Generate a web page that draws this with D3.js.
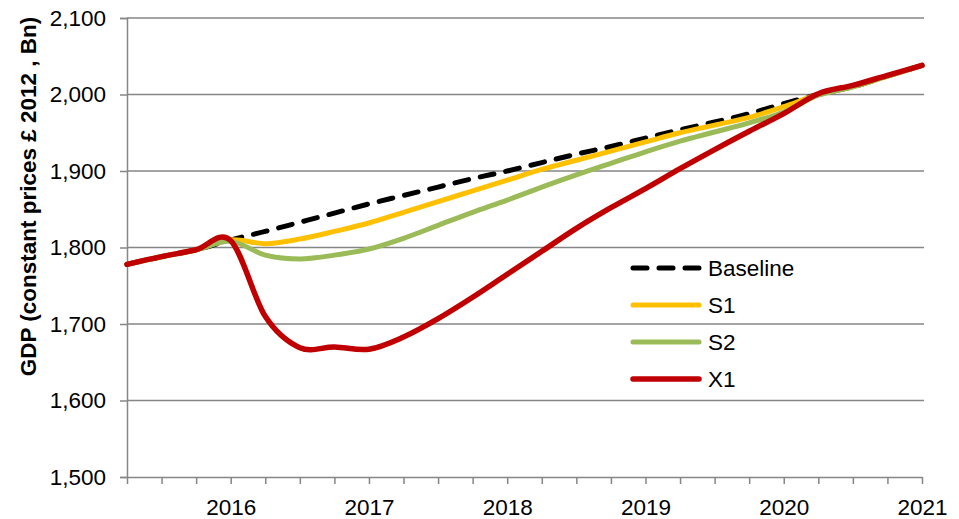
<!DOCTYPE html>
<html>
<head>
<meta charset="utf-8">
<script src="https://cdn.jsdelivr.net/npm/d3@7"></script>
<style>
  html, body { margin: 0; padding: 0; background: #fff; }
  svg { display: block; font-family: "Liberation Sans", Arial, sans-serif; }
</style>
</head>
<body>
<svg id="chart" width="959" height="519"></svg>
<script>
// ---- data (quarterly) ----
const quarters = [2015.25, 2015.5, 2015.75, 2016, 2016.25, 2016.5, 2016.75, 2017,
                  2017.25, 2017.5, 2017.75, 2018, 2018.25, 2018.5, 2018.75, 2019,
                  2019.25, 2019.5, 2019.75, 2020, 2020.25, 2020.5, 2020.75, 2021];
const baseline = [1778, 1788, 1797, 1810, 1821, 1833, 1845, 1857,
                  1868, 1879, 1890, 1900, 1911, 1922, 1932, 1943,
                  1954, 1964, 1975, 1988, 2000, 2010, 2024, 2038];
const s1 =       [1778, 1788, 1797, 1810, 1805, 1811, 1821, 1832,
                  1846, 1860, 1874, 1888, 1902, 1914, 1926, 1938,
                  1950, 1960, 1970, 1984, 2000, 2010, 2024, 2038];
const s2 =       [1778, 1788, 1797, 1808, 1790, 1785, 1790, 1798,
                  1812, 1829, 1846, 1862, 1879, 1895, 1910, 1925,
                  1939, 1951, 1963, 1977, 1999, 2010, 2024, 2038];
const x1 =       [1778, 1788, 1797, 1809, 1710, 1669, 1670, 1667,
                  1683, 1707, 1735, 1765, 1795, 1825, 1852, 1877,
                  1903, 1928, 1952, 1975, 2001, 2012, 2025, 2038];
const seriesNames = ["Baseline", "S1", "S2", "X1"];
const yTicks = [1500, 1600, 1700, 1800, 1900, 2000, 2100];
const yearLabels = [2016, 2017, 2018, 2019, 2020, 2021];
const yTitle = "GDP (constant prices £ 2012 , Bn)";

// ---- layout ----
const svg = d3.select("#chart");
const pLeft = 127, pRight = 922, pTop = 18, pBottom = 477;
const x = d3.scaleLinear().domain([2015.25, 2021]).range([pLeft, pRight]);
const y = d3.scaleLinear().domain([1500, 2100]).range([pBottom, pTop]);
const gridColor = "#868686";

// gridlines
svg.append("g").selectAll("line").data(yTicks.filter(d => d !== 1500)).join("line")
  .attr("x1", pLeft).attr("x2", pRight + 2)
  .attr("y1", d => y(d)).attr("y2", d => y(d))
  .attr("stroke", gridColor).attr("stroke-width", 1.5);

// y axis
const yAxis = svg.append("g").attr("transform", `translate(${pLeft},0)`)
  .call(d3.axisLeft(y).tickValues(yTicks).tickFormat(d3.format(",")).tickSize(7).tickPadding(14));
yAxis.select(".domain").attr("stroke", gridColor).attr("stroke-width", 1.5);
yAxis.selectAll(".tick line").attr("stroke", gridColor).attr("stroke-width", 1.5);
yAxis.selectAll("text").attr("font-size", 22.5).attr("fill", "#000")
  .attr("font-family", "Liberation Sans, Arial, sans-serif");

// x axis
const xAxis = svg.append("g").attr("transform", `translate(0,${pBottom})`)
  .call(d3.axisBottom(x).tickValues(quarters).tickSize(7).tickSizeOuter(0)
    .tickFormat(d => yearLabels.includes(d) ? String(d) : ""));
xAxis.select(".domain").attr("stroke", gridColor).attr("stroke-width", 1.5);
xAxis.selectAll(".tick line").attr("stroke", gridColor).attr("stroke-width", 1.5);
xAxis.selectAll("text").attr("font-size", 22.5).attr("fill", "#000")
  .attr("dy", null).attr("y", 38)
  .attr("font-family", "Liberation Sans, Arial, sans-serif");

// y title
svg.append("text")
  .attr("transform", `translate(36,${(pTop + pBottom) / 2 - 51}) rotate(-90)`)
  .attr("text-anchor", "middle")
  .attr("font-size", 22.5).attr("font-weight", "bold")
  .text(yTitle);

// lines
const series = [
  { name: "Baseline", values: baseline, color: "#000000", width: 5, dash: "14,12" },
  { name: "S1", values: s1, color: "#FFC000", width: 5, dash: null },
  { name: "S2", values: s2, color: "#9BBB59", width: 5, dash: null },
  { name: "X1", values: x1, color: "#C00000", width: 5.5, dash: null }
];
const line = d3.line()
  .x((d, i) => x(quarters[i]))
  .y(d => y(d))
  .curve(d3.curveCardinal.tension(0));

svg.append("g").selectAll("path").data(series).join("path")
  .attr("d", d => line(d.values))
  .attr("fill", "none")
  .attr("stroke", d => d.color)
  .attr("stroke-width", d => d.width)
  .attr("stroke-dasharray", d => d.dash)
  .attr("stroke-linecap", "round")
  .attr("stroke-linejoin", "round");

// legend
const legend = svg.append("g");
const legY = [268, 305, 342, 379];
series.forEach((s, i) => {
  legend.append("line")
    .attr("x1", 633).attr("x2", 699)
    .attr("y1", legY[i]).attr("y2", legY[i])
    .attr("stroke", s.color).attr("stroke-width", s.width)
    .attr("stroke-dasharray", s.dash).attr("stroke-linecap", "round");
  legend.append("text")
    .attr("x", 708).attr("y", legY[i] + 8)
    .attr("font-size", 22.5).attr("fill", "#000")
    .text(seriesNames[i]);
});
</script>
</body>
</html>
